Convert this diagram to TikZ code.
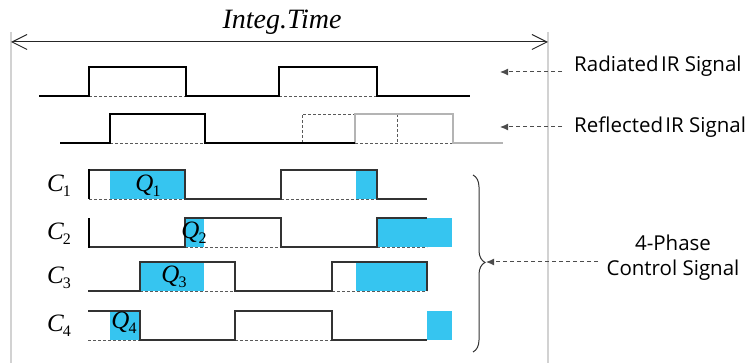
\documentclass[tikz,border=0pt]{standalone}
\usepackage{fontspec}
\setmainfont{Liberation Serif}
\newfontfamily\labsans{Open Sans}
\usetikzlibrary{arrows.meta,decorations.pathreplacing}
\definecolor{qblue}{RGB}{54,197,240}
\definecolor{gridgray}{RGB}{210,210,210}
\definecolor{siggray}{RGB}{180,180,180}
\newcommand{\sublbl}[2]{\textit{#1}\kern-1pt\raisebox{-0.45ex}{\fontsize{16}{16}\selectfont #2}}
\begin{document}
\begin{tikzpicture}[x=1pt,y=-1pt,
  sig/.style={line width=2.6pt, black, line join=miter},
  graysig/.style={line width=2.6pt, siggray, line join=miter},
  thinl/.style={line width=1.2pt, black!80, line join=miter},
  startl/.style={line width=2.2pt, black},
  dsh/.style={line width=0.8pt, black!65, dash pattern=on 3pt off 2pt},
  qbox/.style={fill=qblue},
  gridl/.style={line width=1.5pt, gridgray},
  lblarrow/.style={line width=1pt, black!70, dash pattern=on 4pt off 3pt, -{Latex[length=8pt,width=7pt]}},
  sanslbl/.style={font=\labsans\fontsize{20.5}{26}\selectfont, inner sep=0pt, anchor=west},
  serlbl/.style={font=\fontsize{25}{25}\selectfont, inner sep=0pt},
]
\useasboundingbox (0,0) rectangle (753,363);
% frame lines
\draw[gridl] (11,32) -- (11,363);
\draw[gridl] (548,32) -- (548,363);
% integration time arrow
\coordinate (itL) at (11,42);
\coordinate (itR) at (548,42);
\draw[line width=1pt, black!85, {Straight Barb[length=15pt,width=15pt]}-{Straight Barb[length=15pt,width=15pt]}] (itL) -- (itR);
\node[font=\fontsize{28}{28}\selectfont\itshape, inner sep=0pt] (itime) at (282,22) {Integ.Time};

% radiated IR signal
\draw[dsh] (89,96) -- (186,96) (279,96) -- (377,96);
\draw[sig] (39,96) -- (89,96) -- (89,67) -- (186,67) -- (186,96) -- (279,96) -- (279,67) -- (377,67) -- (377,96) -- (470,96);

% reflected IR signal
\draw[dsh] (110,143) -- (205,143) (355,143) -- (453,143);
\draw[dsh] (302,143) -- (302,114) -- (355,114) (397,114) -- (397,143);
\draw[graysig] (355,143) -- (355,114) -- (453,114) -- (453,143) -- (503,143);
\draw[sig] (60,143) -- (110,143) -- (110,114) -- (205,114) -- (205,143) -- (355,143);

% labels right
\node[sanslbl] (rad) at (574,66) {Radiated\kern-3pt\ IR Signal};
\node[sanslbl] (refl) at (574,127) {Reflected\kern-3pt\ IR Signal};
\coordinate (radS) at (562,72);
\coordinate (radE) at (500,72);
\coordinate (refS) at (562,127);
\coordinate (refE) at (500,127);
\draw[lblarrow] (radS) -- (radE);
\draw[lblarrow] (refS) -- (refE);

% C1
\fill[qbox] (110,170) rectangle (185,199);
\fill[qbox] (356,170) rectangle (377,199);
\draw[dsh] (89,199) -- (185,199) (281,199) -- (377,199);
\draw[thinl] (89,170) -- (185,170) -- (185,199) -- (281,199) -- (281,170) -- (377,170) -- (377,199) -- (427,199);
\draw[startl] (89,199) -- (89,169.4);
% C2
\fill[qbox] (185,218) rectangle (204,247);
\fill[qbox] (377,218) rectangle (452,247);
\draw[dsh] (185,247) -- (281,247) (377,247) -- (427,247);
\draw[thinl] (89,247) -- (185,247) -- (185,218) -- (281,218) -- (281,247) -- (377,247) -- (377,218) -- (427,218);
\draw[startl] (89,247.6) -- (89,218);
% C3
\fill[qbox] (140,262) rectangle (204,291);
\fill[qbox] (356,262) rectangle (427,291);
\draw[dsh] (140,291) -- (235,291) (332,291) -- (427,291);
\draw[thinl] (88,291) -- (140,291) -- (140,262) -- (235,262) -- (235,291) -- (332,291) -- (332,262) -- (427,262) -- (427,291);
% C4
\fill[qbox] (110,311) rectangle (140,340);
\fill[qbox] (427,311) rectangle (452,340);
\draw[dsh] (88,340) -- (140,340) (235,340) -- (332,340);
\draw[thinl] (88,311) -- (140,311) -- (140,340) -- (235,340) -- (235,311) -- (332,311) -- (332,340) -- (427,340);

% C labels
\node[serlbl] (c1) at (59,186) {\sublbl{C}{1}};
\node[serlbl] (c2) at (59,234) {\sublbl{C}{2}};
\node[serlbl] (c3) at (59,278) {\sublbl{C}{3}};
\node[serlbl] (c4) at (59,326) {\sublbl{C}{4}};
% Q labels
\node[serlbl] (q1) at (148,186) {\sublbl{Q}{1}};
\node[serlbl] (q2) at (194,233) {\sublbl{Q}{2}};
\node[serlbl] (q3) at (174,277) {\sublbl{Q}{3}};
\node[serlbl] (q4) at (124,323) {\sublbl{Q}{4}};

% brace
\draw[line width=1pt, black!80, decorate, decoration={brace, amplitude=12pt, aspect=0.494}] (473,175) -- (473,352);
\coordinate (braceTip) at (486,262);
\coordinate (ctrlS) at (598,262);
\draw[lblarrow] (ctrlS) -- (braceTip);
\node[font=\labsans\fontsize{20.5}{25}\selectfont, align=center, inner sep=0pt] (ctrl) at (673,258) {4-Phase\\Control Signal};
\end{tikzpicture}
\end{document}
